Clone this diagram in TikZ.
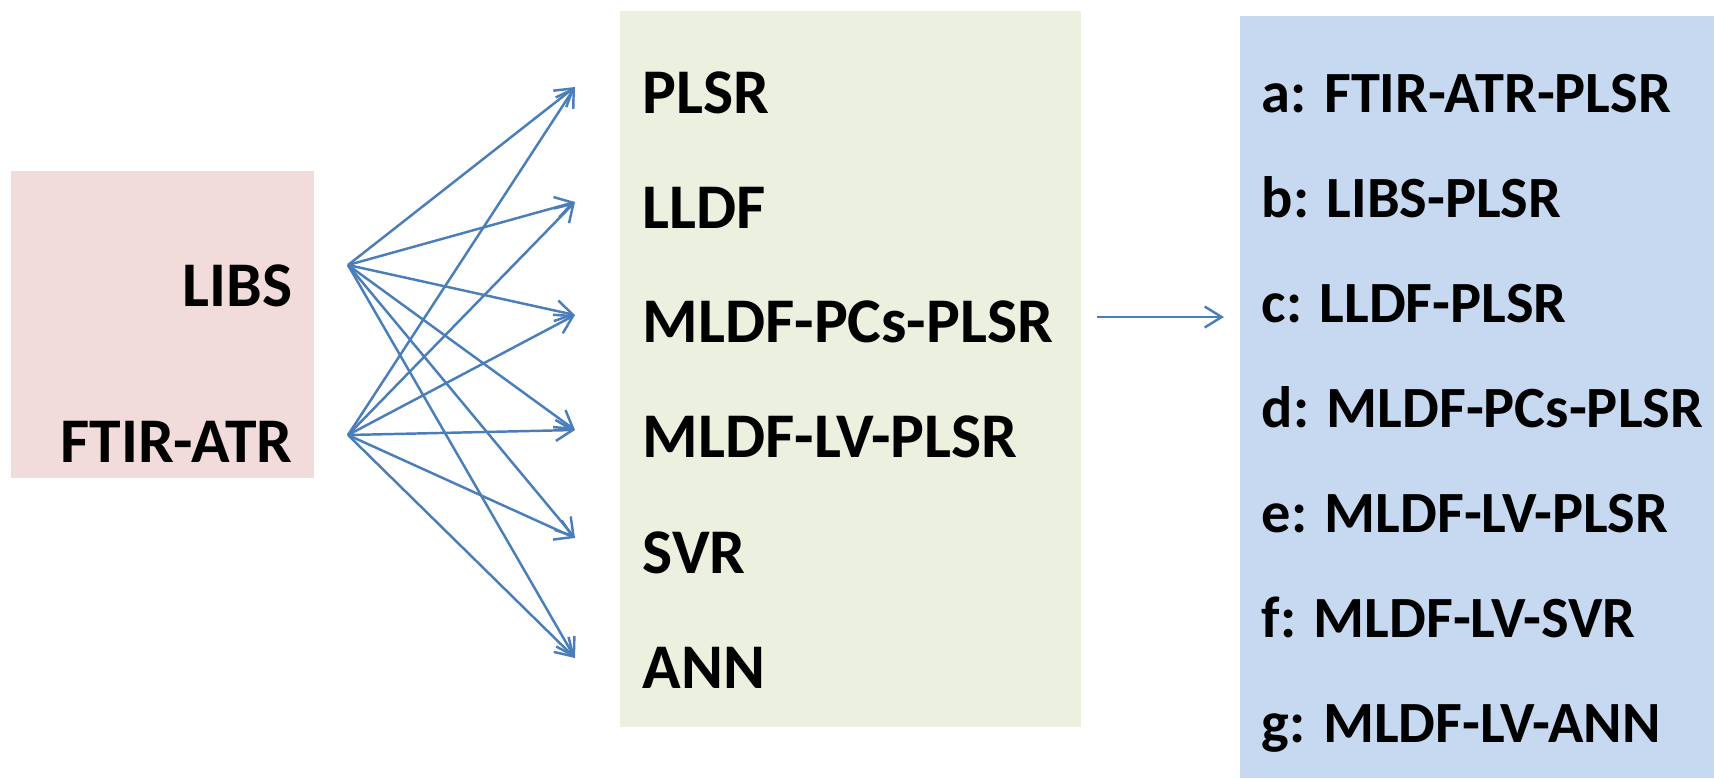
\documentclass[tikz,border=0pt]{standalone}
\usepackage{fontspec}
\setmainfont{Carlito}
\usetikzlibrary{arrows.meta}

\definecolor{srcpink}{HTML}{F2DCDB}
\definecolor{modgreen}{HTML}{EBF1DE}
\definecolor{resblue}{HTML}{C6D9F1}
\definecolor{arrowblue}{HTML}{4A7EBB}

\tikzset{
    panel/.style={inner sep=0pt, draw=none},
    lbl/.style={font=\fontsize{18.1}{21}\selectfont\bfseries, inner sep=0pt},
    reslbl/.style={font=\fontsize{16.6}{19}\selectfont\bfseries, inner sep=0pt, anchor=base west},
    link/.style={draw=arrowblue, line width=0.7pt, -{Straight Barb[length=1.7mm, width=2.1mm]}}
}

\begin{document}
\begin{tikzpicture}[x=0.01cm, y=-0.01cm]
    \useasboundingbox (0,0) rectangle (1714,778);

    % boxes
    \node[panel, fill=srcpink, minimum width=3.03cm, minimum height=3.07cm] (src) at (162.5,324.5) {};
    \node[panel, fill=modgreen, minimum width=4.61cm, minimum height=7.16cm] (mod) at (850.5,369) {};
    \node[panel, fill=resblue, minimum width=4.74cm, minimum height=7.62cm] (res) at (1477,397) {};

    % inputs
    \node[lbl, anchor=base east] (libs) at (293,306) {LIBS};
    \node[lbl, anchor=base east] (ftir) at (293,462) {FTIR-ATR};
    \coordinate (libs-out) at (348,265);
    \coordinate (ftir-out) at (348,435);

    % models
    \node[lbl, anchor=base west] (m1) at (642,113) {PLSR};
    \node[lbl, anchor=base west] (m2) at (642,228) {LLDF};
    \node[lbl, anchor=base west] (m3) at (642,342) {MLDF-PCs-PLSR};
    \node[lbl, anchor=base west] (m4) at (642,457) {MLDF-LV-PLSR};
    \node[lbl, anchor=base west] (m5) at (642,573) {SVR};
    \node[lbl, anchor=base west] (m6) at (642,688) {ANN};
    \foreach \i/\ty in {1/87, 2/202, 3/315, 4/430, 5/538, 6/658}
        \coordinate (m\i-in) at (575,\ty);

    % results
    \node[reslbl] (ra) at (1261,112) {a: FTIR-ATR-PLSR};
    \node[reslbl] (rb) at (1261,217) {b: LIBS-PLSR};
    \node[reslbl] (rc) at (1261,322) {c: LLDF-PLSR};
    \node[reslbl] (rd) at (1261,427) {d: MLDF-PCs-PLSR};
    \node[reslbl] (re) at (1261,532) {e: MLDF-LV-PLSR};
    \node[reslbl] (rf) at (1261,637) {f: MLDF-LV-SVR};
    \node[reslbl] (rg) at (1261,742) {g: MLDF-LV-ANN};

    % connectors
    \foreach \i in {1,...,6} {
        \draw[link] (libs-out) -- (m\i-in);
        \draw[link] (ftir-out) -- (m\i-in);
    }
    \coordinate (mod-out) at (1097,317);
    \coordinate (res-in) at (1224,317);
    \draw[link] (mod-out) -- (res-in);
\end{tikzpicture}
\end{document}
